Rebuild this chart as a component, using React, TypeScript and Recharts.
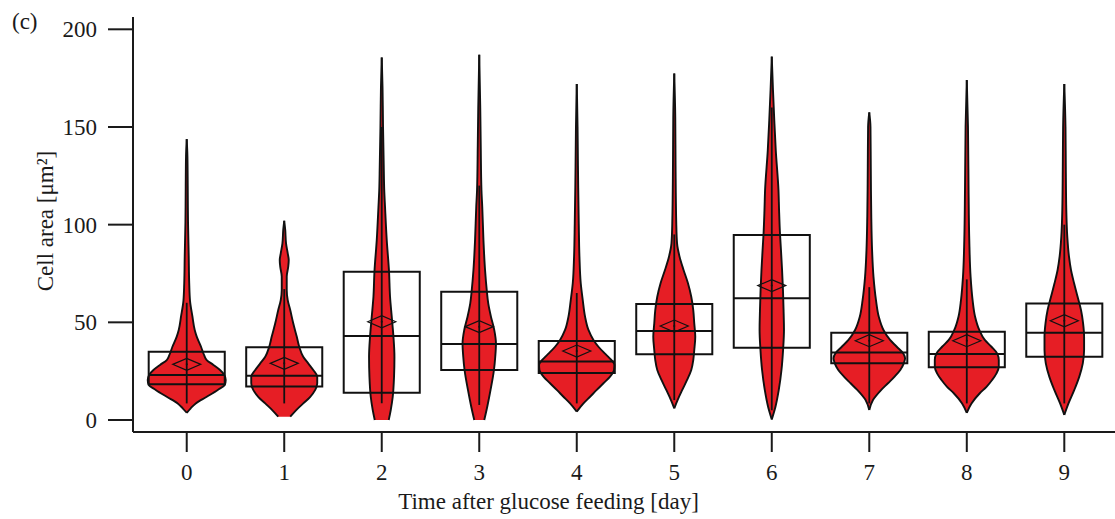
import React from 'react';
import {
  ComposedChart,
  Area,
  XAxis,
  YAxis,
  ReferenceArea,
  ReferenceLine,
  ReferenceDot,
} from 'recharts';

// ---------- data ----------
const days = [0, 1, 2, 3, 4, 5, 6, 7, 8, 9];
const dayTicks = [0, 1, 2, 3, 4, 5, 6, 7, 8, 9];
const areaTicks = [0, 50, 100, 150, 200];

// violin profiles: cell-area values and relative density widths
const violin0Values = [3.7, 6, 8.5, 11.9, 15.4, 18, 20.5, 23, 25.6, 28.2, 30.7, 33.3, 37.5, 42.7, 46.1, 53, 61, 70, 84, 101, 120, 135, 143.8];
const violin0Widths = [0, 4, 9, 20, 31, 38, 39, 37.7, 33.3, 26.7, 20, 17.3, 14.3, 10, 8, 5.7, 3.3, 2.5, 2, 1.3, 1, 0.7, 0];

const violin1Values = [1.7, 5.1, 8.5, 11.9, 15.4, 18.8, 22.2, 25.6, 29, 32.4, 37.5, 42.7, 49.5, 56.3, 61.4, 66.5, 73.4, 78.5, 81.9, 85.3, 90.4, 97.3, 102];
const violin1Widths = [6, 12, 19, 26, 31, 33, 33, 29, 24, 19, 15, 12.5, 9, 6, 3.5, 2.5, 2.5, 4, 4.5, 3.5, 1.8, 1, 0];

const violin2Values = [0, 5.1, 11.9, 22.2, 32.4, 42.7, 52.9, 63.1, 75.9, 92.1, 109, 117.7, 130, 150, 170, 185.6];
const violin2Widths = [7, 9, 11, 12.3, 12.7, 11.7, 10, 8.3, 7.3, 5, 3.3, 2.5, 2, 1.3, 0.8, 0];

const violin3Values = [0, 6.8, 15.4, 25.6, 32.4, 39.2, 46.1, 52.9, 59.7, 66.5, 76.8, 92.1, 109.2, 117.7, 140, 160, 187];
const violin3Widths = [5, 8, 11.3, 14.7, 16, 16.7, 15, 11.7, 9, 7.5, 5.8, 4.2, 3, 2.2, 1.5, 1, 0];

const violin4Values = [4.3, 8.5, 11.9, 15.4, 18.8, 22.2, 25.6, 28.2, 31.6, 34.1, 37.5, 41, 46.1, 52.9, 61.4, 70, 83.6, 100.7, 130, 150, 172];
const violin4Widths = [0, 6.7, 13.3, 20, 26.7, 33.3, 37.3, 37.7, 33, 28, 21.7, 16.7, 11.7, 8.3, 6, 4, 2.7, 2, 1.2, 0.8, 0];

const violin5Values = [6, 10.2, 15.4, 20.5, 25.6, 30.7, 35.8, 42.6, 49.5, 56.3, 63.1, 70, 76.8, 83.6, 90.4, 100.7, 130, 155, 177.4];
const violin5Widths = [0, 3.3, 8, 12.8, 17, 19, 20, 21, 20, 19, 17, 13.7, 9.3, 5.3, 2.8, 2, 1.3, 1, 0];

const violin6Values = [0.3, 6.8, 15.4, 25.6, 35.8, 46.1, 56.3, 66.5, 76.8, 87, 95.6, 107.5, 117.7, 138, 153.6, 169, 186];
const violin6Widths = [0, 3.7, 7, 9.7, 11.3, 12.2, 11.8, 11.2, 10.3, 9.2, 8.2, 7.3, 6.7, 4, 2.5, 1.2, 0];

const violin7Values = [5.1, 10.2, 15.4, 18.8, 22.2, 25.6, 29, 31.6, 34.1, 37.5, 41, 46.1, 52.9, 61.4, 73.4, 87, 104, 130, 150, 157.5];
const violin7Widths = [0, 3.7, 12, 18.7, 25.3, 31, 34.5, 35.8, 34, 27.5, 20.8, 14.2, 9.5, 6.7, 4.2, 2.8, 2, 1.5, 1.2, 0];

const violin8Values = [3.7, 8.5, 13.7, 17, 20.5, 23.9, 27.3, 30.7, 34.1, 37.5, 41, 46.1, 52.9, 61.4, 73.4, 92.1, 117.7, 150, 174];
const violin8Widths = [0, 4.7, 13, 19.7, 25.3, 29.7, 32, 32, 30.3, 24.7, 18, 12.5, 8.3, 5.8, 3.8, 2.5, 1.8, 1.2, 0];

const violin9Values = [2.6, 8.5, 15.4, 22.2, 29, 35.8, 42.6, 49.5, 56.3, 63.1, 70, 76.8, 83.6, 93.8, 107.5, 130, 150, 172];
const violin9Widths = [0, 4.2, 10, 15, 18.5, 19.8, 19.8, 18.8, 16.7, 13.3, 9.8, 6.7, 4.7, 3, 2, 1.5, 1.2, 0];

// box statistics
const q1 = [18.3, 17.1, 14, 25.6, 24, 33.6, 37, 29, 27, 32.4];
const median = [23, 22.7, 43, 38.9, 30, 45.6, 62.3, 34.5, 33.8, 44.7];
const q3 = [35, 37.2, 75.9, 65.7, 40.4, 59.4, 94.7, 44.7, 45.2, 59.7];
const mean = [28.5, 29, 50.3, 47.8, 35.3, 48.1, 68.8, 40.6, 40.6, 50.8];
const whiskerLow = [8.5, 8.5, 8.6, 7.7, 8.5, 10.2, 5, 8.5, 8.5, 8.5];
const whiskerHigh = [60, 67, 150, 120, 65, 95, 160, 68, 72, 100];

// ---------- build table for the library ----------
const violinValues = [violin0Values, violin1Values, violin2Values, violin3Values, violin4Values, violin5Values, violin6Values, violin7Values, violin8Values, violin9Values];
const violinWidths = [violin0Widths, violin1Widths, violin2Widths, violin3Widths, violin4Widths, violin5Widths, violin6Widths, violin7Widths, violin8Widths, violin9Widths];

const WIDTH_TO_DAY = 1 / 97.5;
const BOX_HALF = 0.39;

const allValues = Array.from(new Set(violinValues.flat())).sort((a, b) => a - b);
const table = allValues.map((v) => {
  const row: Record<string, any> = { v };
  days.forEach((d, i) => {
    const idx = violinValues[i].indexOf(v);
    if (idx >= 0) {
      const w = violinWidths[i][idx] * WIDTH_TO_DAY;
      row['r' + i] = [d - w, d + w];
    } else {
      row['r' + i] = [null, null];
    }
  });
  return row;
});

const FONT = '"Liberation Serif", "Times New Roman", serif';
const INK = '#1a1a1a';
const RED = '#e61e25';

const Diamond = (props: any) => {
  const { cx, cy } = props;
  if (cx == null || cy == null) return null;
  const w = 14;
  const h = 6;
  return (
    <g>
      <polygon
        points={`${cx - w},${cy} ${cx},${cy - h} ${cx + w},${cy} ${cx},${cy + h}`}
        fill="none"
        stroke="#111"
        strokeWidth={1.2}
      />
      <circle cx={cx} cy={cy} r={1} fill="#111" />
    </g>
  );
};

const YTitle = () => (
  <g>
    <text
      x={44.5}
      y={213}
      transform="rotate(-90 44.5 213)"
      textAnchor="middle"
      fontFamily={FONT}
      fontSize={23}
      fill={INK}
    >
      Cell area [μm²]
    </text>
    <text x={4} y={21} fontFamily={FONT} fontSize={23} fill={INK}>
      (c)
    </text>
  </g>
);

const XTitle = () => (
  <text x={540.5} y={501} textAnchor="middle" fontFamily={FONT} fontSize={23} fill={INK}>
    Time after glucose feeding [day]
  </text>
);

export default function App() {
  return (
    <div style={{ width: 1107, height: 511, padding: '8px 0 0 8px', fontFamily: FONT }}>
      <style>{'html,body{overflow:hidden;margin:0;padding:0;}'}</style>
      <ComposedChart
        width={1107}
        height={511}
        data={table}
        layout="vertical"
        margin={{ top: 9, right: 0, bottom: 0, left: 0 }}
      >
        <XAxis
          type="number"
          domain={[-0.551, 9.52]}
          allowDataOverflow
          ticks={dayTicks}
          interval={0}
          height={87}
          tickSize={20}
          tickMargin={12}
          tick={{ fill: INK, fontSize: 23, fontFamily: FONT }}
          tickLine={{ stroke: INK, strokeWidth: 2 }}
          axisLine={{ stroke: INK, strokeWidth: 2 }}
          label={{ content: XTitle }}
        />
        <XAxis
          xAxisId="top"
          orientation="top"
          type="number"
          domain={[-0.551, 9.52]}
          allowDataOverflow
          height={0}
          tick={false}
          tickLine={false}
          axisLine={{ stroke: INK, strokeWidth: 2 }}
        />
        <YAxis
          type="number"
          dataKey="v"
          reversed
          domain={[-6.14, 206.3]}
          allowDataOverflow
          ticks={areaTicks}
          interval={0}
          width={125}
          tickSize={25}
          tickMargin={11}
          tick={{ fill: INK, fontSize: 23, fontFamily: FONT }}
          tickLine={{ stroke: INK, strokeWidth: 2 }}
          axisLine={{ stroke: INK, strokeWidth: 2 }}
          label={{ content: YTitle }}
        />
        {days.map((d, i) => (
          <Area
            key={'violin' + i}
            dataKey={'r' + i}
            type="monotone"
            connectNulls
            fill={RED}
            fillOpacity={1}
            stroke="#111"
            strokeWidth={1.9}
            isAnimationActive={false}
            dot={false}
            activeDot={false}
          />
        ))}
        {days.map((d, i) => (
          <ReferenceLine
            key={'wh' + i}
            segment={[
              { x: d, y: whiskerLow[i] },
              { x: d, y: whiskerHigh[i] },
            ]}
            stroke="#111"
            strokeWidth={1.8}
          />
        ))}
        {days.map((d, i) => (
          <ReferenceArea
            key={'box' + i}
            x1={d - BOX_HALF}
            x2={d + BOX_HALF}
            y1={q1[i]}
            y2={q3[i]}
            fill="none"
            fillOpacity={0}
            stroke="#111"
            strokeWidth={2}
          />
        ))}
        {days.map((d, i) => (
          <ReferenceLine
            key={'med' + i}
            segment={[
              { x: d - BOX_HALF, y: median[i] },
              { x: d + BOX_HALF, y: median[i] },
            ]}
            stroke="#111"
            strokeWidth={2}
          />
        ))}
        {days.map((d, i) => (
          <ReferenceDot key={'mean' + i} x={d} y={mean[i]} r={1} shape={Diamond} />
        ))}
      </ComposedChart>
    </div>
  );
}
